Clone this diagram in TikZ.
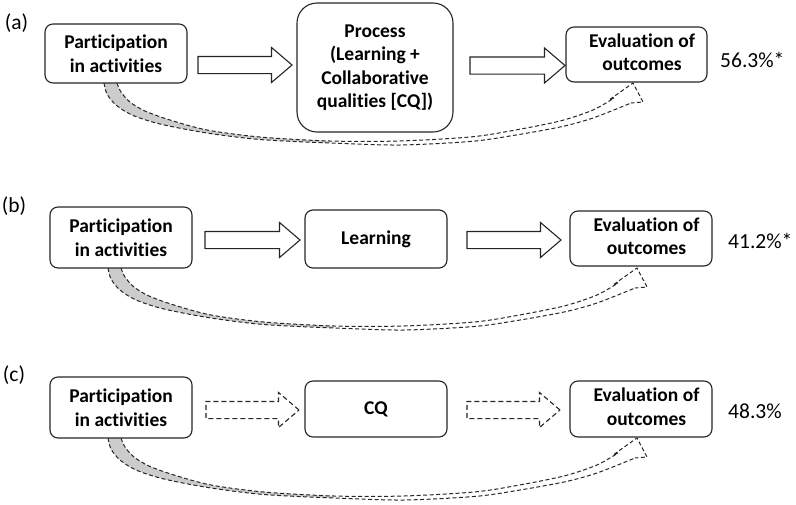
\documentclass[tikz,border=0pt]{standalone}
\usepackage{fontspec}
\setmainfont{Carlito}[RawFeature={-liga;-clig;-calt;-dlig}]
\usetikzlibrary{shapes.arrows}
\newcommand\boxfont{\fontsize{19.5}{23.5}\selectfont\bfseries}
\newcommand\labfont{\fontsize{21.5}{25}\selectfont}
\newcommand\evaltext{\begin{tabular}{@{\hspace{11pt}}c@{}}Evaluation of\\outcomes\end{tabular}}
\newcommand\partext{Participation\\in activities}
\newcommand\backarrow[2]{%
\begin{scope}[shift={(#1,#2)}]
\fill[gray!40] plot[smooth] coordinates {(104,83) (107,94) (116,105) (132,115) (160,124) (207,133) (260,139.5) (330,143)} -- plot[smooth] coordinates {(330,141) (260,137) (207,130) (170,120) (145,111) (130,102) (121,92) (117,83)} -- cycle;
\draw[curvedash] plot[smooth] coordinates {(117,83) (121,92) (130,102) (145,111) (170,120) (207,130) (260,137) (330,141) (400,141) (470,137) (510,131) (560,121) (593,110) (614,98)};
\draw[curvedash] plot[smooth] coordinates {(104,83) (107,94) (116,105) (132,115) (160,124) (207,133) (260,139.5) (330,143) (400,145) (470,141.5) (510,136) (560,127) (593,118) (631,103)};
\draw[curvedash] (614,98) -- (609,100) -- (633,83) -- (643,102) -- (631,103);
\end{scope}}
\begin{document}
\begin{tikzpicture}[x=1pt,y=-1pt,
 box/.style={draw=black!85, line width=1.1pt, rounded corners=8pt, fill=white, align=center, font=\boxfont, inner sep=0pt, text=black},
 blockarr/.style={single arrow, draw=black!85, line width=1.1pt, fill=white, inner sep=0pt, text height=16pt, text depth=0pt, minimum width=34pt, single arrow head extend=9pt, single arrow tip angle=81},
 dashedarr/.style={blockarr, dash pattern=on 5pt off 3pt},
 curvedash/.style={draw=black!85, line width=1pt, dash pattern=on 4pt off 2.5pt},
 lab/.style={font=\labfont, inner sep=0pt, text=black}]
\useasboundingbox (0,0) rectangle (796,504);

% curved feedback arrows
\backarrow{0}{0}
\backarrow{4}{185}
\backarrow{4}{355}

% panel (a)
\node[lab] (la) at (16.5,23) {(a)};
\node[box, minimum width=142pt, minimum height=59pt] (p1) at (116,53.5) {\partext};
\node[box, rounded corners=20pt, minimum width=156pt, minimum height=129pt] (pr) at (375,67.5) {Process\\(Learning +\\Collaborative\\qualities [CQ])};
\node[box, minimum width=141pt, minimum height=55pt] (e1) at (636.5,54.5) {\evaltext};
\node[blockarr, minimum height=94pt] (a1) at (240,65) {};
\node[blockarr, minimum height=95pt] (a2) at (512.5,65.5) {};
\node[lab, anchor=base west] (pa) at (720,67) {56.3\%*};

% panel (b)
\node[lab] (lb) at (14,206) {(b)};
\node[box, minimum width=142pt, minimum height=61pt] (p2) at (121,237.5) {\partext};
\node[box, minimum width=142pt, minimum height=58pt] (le) at (376,239) {Learning};
\node[box, minimum width=142pt, minimum height=55pt] (e2) at (641,238.5) {\evaltext};
\node[blockarr, minimum height=95pt] (b1) at (247.5,240) {};
\node[blockarr, minimum height=94pt] (b2) at (509,240) {};
\node[lab, anchor=base west] (pb) at (728,248) {41.2\%*};

% panel (c)
\node[lab] (lc) at (14,375) {(c)};
\node[box, minimum width=142pt, minimum height=61pt] (p3) at (121,407.5) {\partext};
\node[box, minimum width=142pt, minimum height=56pt] (cq) at (376,409) {CQ};
\node[box, minimum width=142pt, minimum height=56pt] (e3) at (641,409) {\evaltext};
\node[dashedarr, minimum height=93pt] (c1) at (247.5,410) {};
\node[dashedarr, minimum height=93pt] (c2) at (508.5,410) {};
\node[lab, anchor=base west] (pc) at (728,418) {48.3\%};
\end{tikzpicture}
\end{document}
